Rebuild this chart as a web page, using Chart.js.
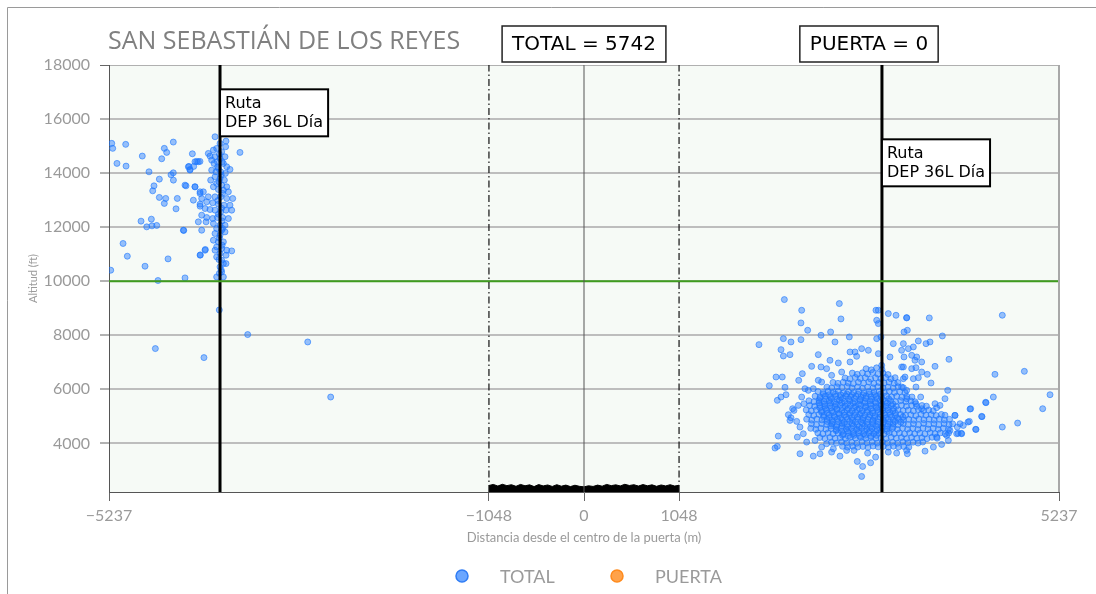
<!DOCTYPE html>
<html>
<head>
<meta charset="utf-8">
<script src="https://cdn.jsdelivr.net/npm/chart.js@4.4.1/dist/chart.umd.min.js"></script>
<style>
  html, body { margin: 0; padding: 0; background: #ffffff; }
  canvas { display: block; }
</style>
</head>
<body>
<canvas id="c" width="1096" height="594"></canvas>
<script>
// ---- chart text and counts ----
const chartTitle = 'SAN SEBASTIÁN DE LOS REYES';
const totalCount = 5742;
const gateCount = 0;
const seriesNames = ['TOTAL', 'PUERTA'];
const routeLabel = ['Ruta', 'DEP 36L Día'];

// ---- axes ----
const xRange = [-5237, 5237];
const yRange = [2200, 18000];
const xTickValues = [-5237, -1048, 0, 1048, 5237];
const yTickValues = [4000, 6000, 8000, 10000, 12000, 14000, 16000, 18000];

// ---- reference lines (m / ft) ----
const routeLineX = [-4013, 3285];
const routeLabelY = [17100, 15250];
const gateEdgesX = [-1048, 1048];
const gateCenterX = 0;
const altitudeLimit = 10000;

// ---- ground profile across the gate ----
const groundX = [-1048,-1000,-950,-900,-850,-800,-750,-700,-650,-600,-550,-500,-450,-400,-350,-300,-250,-200,-150,-100,-50,0,50,100,150,200,250,300,350,400,450,500,550,600,650,700,750,800,850,900,950,1000,1048];
const groundY = [2440,2480,2420,2485,2435,2470,2410,2480,2430,2465,2400,2475,2425,2460,2405,2470,2415,2455,2400,2450,2410,2390,2430,2405,2455,2415,2480,2435,2465,2425,2485,2440,2470,2420,2475,2430,2465,2410,2460,2425,2470,2420,2450];

// ---- TOTAL tracks: west of the gate (distance m, altitude ft) ----
const westPoints = [
[-5207,15100],[-5196,14915],[-5053,15063],[-5149,14359],[-5049,14259],[-4870,14630],[-4627,14915],[-4601,14766],[-4528,15148],[-4656,14530],
[-4796,14048],[-4682,13777],[-4741,13529],[-4755,13344],[-4553,13937],[-4528,14011],[-4682,13100],[-4612,13063],[-4627,12878],[-4484,13063],
[-4498,12678],[-4388,13529],[-4318,14715],[-4270,14433],[-4234,14433],[-4355,14248],[-4303,14248],[-4344,14111],[-4289,13492],[-4884,12222],
[-4770,12296],[-4821,12011],[-4763,12048],[-4711,12063],[-4413,11878],[-5082,11396],[-5035,10925],[-4840,10555],[-4586,10826],[-5218,10407],
[-4697,10025],[-4399,10122],[-4230,10974],[-4175,11174],[-4021,8936],[-3708,8025],[-3046,7751],[-4726,7507],[-4190,7173],[-2793,5714],[-3793,14766],
[-4068,15345],[-4013,15098],[-3947,15184],[-4050,14913],[-4086,14851],[-3995,14789],[-3951,14975],[-4123,14629],[-4068,14604],[-4013,14542],
[-3958,14604],[-4042,14419],[-4079,14357],[-3976,14357],[-3939,14234],[-4031,14172],[-4105,14110],[-4057,14048],[-4006,14048],[-3954,13987],
[-3903,14135],[-4068,13863],[-4013,13801],[-3965,13740],[-4116,13740],[-4050,13616],[-3995,13554],[-3939,13493],[-4086,13493],[-4031,13394],
[-3976,13369],[-3921,13307],[-4197,13307],[-4233,13246],[-4142,13122],[-4068,13122],[-4006,13122],[-3939,13060],[-3873,13060],[-4160,12937],
[-4094,12900],[-4031,12850],[-3969,12813],[-3903,12813],[-4233,12776],[-4178,12690],[-4123,12653],[-4068,12628],[-4006,12566],[-3947,12628],
[-3884,12628],[-4215,12443],[-4160,12356],[-4094,12319],[-4042,12356],[-3984,12356],[-3921,12319],[-4252,12196],[-4167,12196],[-4086,12134],
[-4013,12072],[-3958,12072],[-4050,11949],[-3995,11887],[-4068,11764],[-4013,11702],[-3958,11825],[-4086,11517],[-4031,11455],[-3976,11455],
[-4050,11270],[-3995,11208],[-3939,11146],[-3884,11121],[-4068,11146],[-4013,11023],[-3947,10961],[-4050,10899],[-3995,10776],[-3976,10652],
[-4013,10529],[-3947,10652],[-3995,10343],[-4050,10158],[-3976,10158],[-4215,13060],[-4307,12998],[-4233,12850],[-4417,11887],[-4215,11887],
[-4362,14234],[-4344,14135],[-4289,14419],[-4252,14419],[-4233,10961],[-4178,11146],[-4142,14728],[-4105,14481],[-4527,13740],[-4399,13554],
[-4289,13493],[-4233,13307],[-4020,14700],[-3990,14420],[-4040,14230],[-4000,13930],[-4025,13680],[-3985,13250],[-4035,12990],[-3995,12700],
[-4030,12480],[-3990,12230],[-4020,11600],[-3990,11330],[-4025,10800],[-4000,10420],[-4020,10290],[-3985,11950]
];

// ---- TOTAL tracks: east of the gate, scattered part ----
const eastPoints = [
[2209,9320],[2400,8925],[2815,9172],[2392,8456],[2833,8604],[2466,8184],[2198,7875],[2282,7752],[2392,7838],[2719,8122],
[2613,7999],[2767,7752],[2925,7937],[1929,7653],[2172,7468],[2198,7233],[2271,7283],[2583,7283],[2510,6850],[2613,6826],
[2117,6455],[2186,6455],[2367,6332],[2407,6579],[2043,6134],[2216,6072],[2131,5591],[2172,5714],[2227,5800],[2300,5282],
[2253,5060],[2282,4948],[2345,4813],[2142,4269],[2106,3825],[2131,3886],[2381,3615],[2528,3528],[2822,3528],[2977,3738],
[3013,3330],[3072,3145],[3061,2775],[3160,3281],[3127,3639],[3215,3491],[3219,8925],[3245,8431],[3355,8802],[3440,8740],
[3557,8653],[3227,7875],[2933,7381],[2988,7381],[3061,7505],[3135,7443],[3006,7221],[2712,7073],[2804,6974],[2675,6764],
[2730,6517],[2841,6640],[2933,7011],[2583,6332],[2620,6270],[2473,5961],[2436,6023],[2528,6023],[2400,5714],[2425,5467],
[2363,5405],[2315,5220],[2271,4850],[2381,4603],[2418,4356],[2352,4232],[2455,4047],[2547,4109],[2620,3862],[2675,3985],
[2749,3800],[2602,3615],[2730,3676],[2896,3738],[3355,3676],[3447,3639],[3557,3738],[3502,6826],[3521,6393],[3374,7196],
[3410,7690],[3528,8122],[3245,8925],[3227,8555],[3274,7937],[3245,7320],[3282,6887],
[3558,8641],[3807,8641],[4612,8740],[3565,8184],[3951,7974],[3686,7789],[3771,7690],[3815,7752],[3521,7690],[3502,7443],
[3576,7505],[3631,7567],[3528,7196],[3613,7258],[3649,7073],[3668,7196],[3723,7011],[4024,7110],[3870,6850],[3613,6764],
[3660,6801],[3521,6826],[3539,6455],[3631,6393],[3686,6430],[3723,6640],[3785,6554],[3826,6233],[4531,6554],[4855,6665],
[3502,6085],[3558,5961],[3660,6085],[4010,5961],[3712,5714],[3558,5652],[3980,5652],[4513,5714],[4432,5504],[5138,5800],
[3870,5467],[3925,5405],[3888,5319],[3660,5467],[3723,5282],[4263,5282],[5057,5282],[4384,4998],[4090,5035],[4248,4813],
[4146,4726],[4182,4664],[4116,4603],[4322,4516],[4612,4603],[4781,4751],[4164,4356],[4109,4356],[4035,4479],[3999,4294],
[3943,3960],[3852,3862],[3760,3713],[3565,3615],[4017,4109],[3888,4232],[4428,5517],[4388,4988],[4318,4518],[4256,5270],
[4090,5036],[4124,4370],[4160,4370],[4234,4788]
];

// ---- TOTAL tracks: east of the gate, dense body ----
const eastDense = [
[3110,6760],[3168,6720],[3226,6795],[3285,6735],
[2958,6600],[3012,6555],[3070,6610],[3126,6570],[3183,6620],[3240,6560],[3297,6600],[3352,6545],
[2878,6420],[2931,6385],[2992,6440],[3046,6400],[3101,6430],[3161,6380],[3214,6425],[3273,6395],[3326,6440],[3384,6390],[3430,6430],
[2745,6255],[2800,6220],[2858,6265],[2913,6230],[2970,6210],[3026,6260],[3082,6225],[3140,6270],[3196,6215],[3252,6250],[3308,6230],[3364,6265],[3420,6220],[3460,6250],
[2678,6080],[2731,6045],[2792,6090],[2845,6060],[2903,6100],[2955,6050],[3016,6085],[3070,6040],[3127,6080],[3186,6055],[3238,6095],[3297,6050],[3352,6080],[3409,6045],[3463,6090],[3520,6060],
[2580,5915],[2636,5880],[2692,5925],[2748,5890],[2805,5930],[2861,5875],[2917,5910],[2973,5885],[3030,5925],[3086,5870],[3142,5915],[3198,5890],[3255,5930],[3311,5880],[3367,5920],[3423,5885],[3480,5910],[3540,5880],
[2548,5745],[2603,5710],[2661,5750],[2715,5715],[2774,5740],[2828,5700],[2885,5755],[2940,5720],[2999,5745],[3053,5705],[3110,5750],[3166,5715],[3222,5740],[3279,5710],[3334,5755],[3392,5720],[3447,5745],[3504,5705],[3559,5740],[3616,5715],
[2480,5575],[2536,5540],[2592,5580],[2648,5545],[2705,5570],[2761,5530],[2817,5585],[2873,5550],[2930,5575],[2986,5540],[3042,5580],[3098,5545],[3155,5570],[3211,5535],[3267,5580],[3323,5550],[3380,5575],[3436,5540],[3492,5580],[3548,5545],[3604,5570],[3650,5540],
[2488,5400],[2543,5370],[2601,5410],[2655,5375],[2713,5405],[2768,5365],[2826,5415],[2880,5380],[2938,5400],[2993,5370],[3051,5410],[3105,5375],[3163,5405],[3218,5365],[3276,5410],[3330,5380],[3388,5400],[3443,5370],[3501,5410],[3555,5375],[3613,5405],[3668,5370],[3726,5400],[3775,5375],
[2450,5235],[2506,5200],[2562,5240],[2618,5205],[2675,5230],[2731,5195],[2787,5245],[2843,5210],[2900,5235],[2956,5200],[3012,5240],[3068,5205],[3125,5230],[3181,5195],[3237,5245],[3293,5210],[3350,5235],[3406,5200],[3462,5240],[3518,5205],[3575,5230],[3631,5195],[3687,5245],[3743,5210],[3800,5235],[3850,5205],
[2478,5065],[2533,5030],[2591,5070],[2645,5035],[2703,5060],[2758,5025],[2816,5075],[2870,5040],[2928,5065],[2983,5030],[3041,5070],[3095,5035],[3153,5060],[3208,5025],[3266,5075],[3320,5040],[3378,5065],[3433,5030],[3491,5070],[3545,5035],[3603,5060],[3658,5025],[3716,5075],[3770,5040],[3828,5065],[3883,5030],[3940,5070],[3980,5040],
[2455,4895],[2511,4860],[2567,4900],[2623,4865],[2680,4890],[2736,4855],[2792,4905],[2848,4870],[2905,4895],[2961,4860],[3017,4900],[3073,4865],[3130,4890],[3186,4855],[3242,4905],[3298,4870],[3355,4895],[3411,4860],[3467,4900],[3523,4865],[3580,4890],[3636,4855],[3692,4905],[3748,4870],[3805,4895],[3861,4860],[3917,4900],[3973,4865],[4030,4890],
[2508,4725],[2563,4690],[2621,4730],[2675,4695],[2733,4720],[2788,4685],[2846,4735],[2900,4700],[2958,4725],[3013,4690],[3071,4730],[3125,4695],[3183,4720],[3238,4685],[3296,4735],[3350,4700],[3408,4725],[3463,4690],[3521,4730],[3575,4695],[3633,4720],[3688,4685],[3746,4735],[3800,4700],[3858,4725],[3913,4690],[3970,4730],[4025,4695],[4065,4720],
[2500,4555],[2556,4520],[2612,4560],[2668,4525],[2725,4550],[2781,4515],[2837,4565],[2893,4530],[2950,4555],[3006,4520],[3062,4560],[3118,4525],[3175,4550],[3231,4515],[3287,4565],[3343,4530],[3400,4555],[3456,4520],[3512,4560],[3568,4525],[3625,4550],[3681,4515],[3737,4565],[3793,4530],[3850,4555],[3906,4520],[3962,4560],[4018,4525],
[2578,4385],[2633,4350],[2691,4390],[2745,4355],[2803,4380],[2858,4345],[2916,4395],[2970,4360],[3028,4385],[3083,4350],[3141,4390],[3195,4355],[3253,4380],[3308,4345],[3366,4395],[3420,4360],[3478,4385],[3533,4350],[3591,4390],[3645,4355],[3703,4380],[3758,4345],[3816,4395],[3870,4360],[3928,4385],[3983,4350],[4020,4380],
[2600,4215],[2656,4180],[2712,4220],[2768,4185],[2825,4210],[2881,4175],[2937,4225],[2993,4190],[3050,4215],[3106,4180],[3162,4220],[3218,4185],[3275,4210],[3331,4175],[3387,4225],[3443,4190],[3500,4215],[3556,4180],[3612,4220],[3668,4185],[3725,4210],[3781,4175],[3837,4225],[3893,4190],
[2728,4045],[2783,4010],[2841,4050],[2895,4015],[2953,4040],[3008,4005],[3066,4055],[3120,4020],[3178,4045],[3233,4010],[3291,4050],[3345,4015],[3403,4040],[3458,4005],[3516,4055],[3570,4020],[3628,4045],[3683,4010],[3735,4050],
[2850,3890],[2906,3860],[2962,3895],[3018,3865],[3075,3885],[3131,3855],[3187,3900],[3243,3870],[3300,3890],[3356,3860],[3412,3895],[3468,3865],[3525,3885],[3581,3860]
];

// ---- TOTAL tracks: east of the gate, densest core ----
const eastCore = [
[2640,5830],[2702,5800],[2771,5825],[2830,5795],[2897,5830],[2955,5805],[3021,5820],[3080,5790],[3148,5830],[3206,5800],[3270,5825],
[2600,5660],[2665,5630],[2728,5655],[2790,5625],[2852,5660],[2918,5635],[2980,5655],[3045,5625],[3108,5660],[3170,5630],[3232,5655],[3295,5625],[3360,5650],
[2590,5490],[2652,5460],[2718,5485],[2780,5455],[2842,5490],[2905,5465],[2968,5485],[3030,5455],[3094,5490],[3157,5460],[3220,5485],[3283,5455],[3345,5490],[3405,5460],
[2600,5320],[2662,5290],[2725,5315],[2788,5285],[2850,5320],[2912,5295],[2976,5315],[3038,5285],[3101,5320],[3164,5290],[3227,5315],[3290,5285],[3352,5320],[3415,5290],
[2620,5150],[2683,5120],[2745,5145],[2808,5115],[2870,5150],[2933,5125],[2995,5145],[3058,5115],[3121,5150],[3184,5120],[3246,5145],[3309,5115],[3371,5150],[3434,5120],
[2640,4980],[2702,4950],[2765,4975],[2828,4945],[2890,4980],[2953,4955],[3015,4975],[3078,4945],[3141,4980],[3204,4950],[3266,4975],[3329,4945],[3391,4980],[3454,4950],[3517,4975],
[2680,4810],[2742,4780],[2805,4805],[2868,4775],[2930,4810],[2993,4785],[3055,4805],[3118,4775],[3181,4810],[3244,4780],[3306,4805],[3369,4775],[3431,4810],[3494,4780],
[2720,4640],[2783,4610],[2845,4635],[2908,4605],[2970,4640],[3033,4615],[3095,4635],[3158,4605],[3221,4640],[3284,4610],[3346,4635],[3409,4605],
[2780,4470],[2843,4440],[2905,4465],[2968,4435],[3030,4470],[3093,4445],[3155,4465],[3218,4435],[3281,4470],[3344,4440],
[2850,4300],[2913,4270],[2975,4295],[3038,4265],[3100,4300],[3163,4275],[3225,4295]
];

// gate crossings (none recorded)
const gatePoints = [];

// ---- styling ----
const totalFill = 'rgba(30,120,255,0.45)';
const totalEdge = 'rgba(30,120,255,0.6)';
const gateFill = 'rgba(255,140,30,0.8)';
const gateEdge = 'rgba(255,120,0,0.9)';
const greyText = '#9a9a9a';
const uiFont = 'Lato, "Open Sans", sans-serif';
const boxFont = '"DejaVu Sans", sans-serif';

const toXY = p => ({ x: p[0], y: p[1] });
const vertical = x => [{ x: x, y: yRange[0] }, { x: x, y: yRange[1] }];

const lineSet = (data, color, width, dash, order) => ({
  type: 'scatter', data, showLine: true, pointRadius: 0, borderColor: color,
  backgroundColor: color, borderWidth: width, borderDash: dash || [], order, fill: false
});

const datasets = [
  {
    label: seriesNames[0], type: 'scatter',
    data: westPoints.concat(eastPoints, eastDense, eastCore).map(toXY),
    backgroundColor: totalFill, borderColor: totalEdge,
    pointRadius: 3, borderWidth: 1, order: 3
  },
  {
    label: seriesNames[1], type: 'scatter', data: gatePoints.map(toXY),
    backgroundColor: gateFill, borderColor: gateEdge, pointRadius: 3, borderWidth: 1, order: 2
  },
  {
    label: 'suelo', type: 'line',
    data: groundX.map((x, i) => ({ x, y: groundY[i] })),
    borderColor: '#000', backgroundColor: '#000', borderWidth: 1,
    pointRadius: 0, fill: 'start', tension: 0, order: 1
  },
  lineSet(vertical(gateCenterX), '#555', 1, [], 0),
  lineSet(vertical(gateEdgesX[0]), '#111', 1.2, [7, 3, 1.5, 3], 0),
  lineSet(vertical(gateEdgesX[1]), '#111', 1.2, [7, 3, 1.5, 3], 0),
  lineSet([{ x: xRange[0], y: altitudeLimit }, { x: xRange[1], y: altitudeLimit }], '#3f9c1f', 2, [], 0),
  lineSet(vertical(routeLineX[0]), '#000', 3, [], 0),
  lineSet(vertical(routeLineX[1]), '#000', 3, [], 0)
];

// ---- drawing helpers: backgrounds, frame, labels, legend ----
const decorations = {
  id: 'decorations',
  beforeDraw(chart) {
    const { ctx, chartArea: a } = chart;
    ctx.save();
    ctx.fillStyle = '#ffffff';
    ctx.fillRect(0, 0, chart.width, chart.height);
    ctx.strokeStyle = '#9a9a9a';
    ctx.lineWidth = 1;
    ctx.beginPath();
    ctx.moveTo(7.5, chart.height);
    ctx.lineTo(7.5, 7.5);
    ctx.lineTo(chart.width, 7.5);
    ctx.stroke();
    ctx.fillStyle = '#f6faf6';
    ctx.fillRect(a.left, a.top, a.right - a.left, a.bottom - a.top);
    ctx.restore();
  },
  afterDatasetsDraw(chart) {
    const { ctx, chartArea: a, scales: { x, y } } = chart;
    ctx.save();
    // right edge of the plot
    ctx.strokeStyle = '#a8a8a8';
    ctx.lineWidth = 2;
    ctx.beginPath();
    ctx.moveTo(a.right, a.top);
    ctx.lineTo(a.right, a.bottom);
    ctx.stroke();
    // route labels
    ctx.font = '16px ' + boxFont;
    const tw = Math.max(...routeLabel.map(t => ctx.measureText(t).width));
    routeLineX.forEach((lx, i) => {
      const left = x.getPixelForValue(lx);
      const top = y.getPixelForValue(routeLabelY[i]);
      const w = tw + 10, h = 47;
      ctx.fillStyle = '#ffffff';
      ctx.fillRect(left, top, w, h);
      ctx.strokeStyle = '#000';
      ctx.lineWidth = 2;
      ctx.strokeRect(left, top, w, h);
      ctx.fillStyle = '#000';
      ctx.textAlign = 'left';
      ctx.textBaseline = 'alphabetic';
      ctx.fillText(routeLabel[0], left + 5, top + 19);
      ctx.fillText(routeLabel[1], left + 5, top + 38);
    });
    ctx.restore();
  },
  afterDraw(chart) {
    const { ctx, chartArea: a } = chart;
    const cx = (a.left + a.right) / 2;
    ctx.save();
    // title
    ctx.fillStyle = '#808080';
    ctx.font = '25px "Open Sans", sans-serif';
    ctx.textAlign = 'left';
    ctx.textBaseline = 'alphabetic';
    ctx.fillText(chartTitle, a.left - 1, 49);
    // count boxes
    const countBox = (text, centerX) => {
      ctx.font = '20px ' + boxFont;
      const w = ctx.measureText(text).width + 20, h = 36;
      ctx.fillStyle = '#fff';
      ctx.fillRect(centerX - w / 2, 26, w, h);
      ctx.strokeStyle = '#222';
      ctx.lineWidth = 1.5;
      ctx.strokeRect(centerX - w / 2, 26, w, h);
      ctx.fillStyle = '#000';
      ctx.textAlign = 'center';
      ctx.textBaseline = 'middle';
      ctx.fillText(text, centerX, 45);
    };
    countBox(seriesNames[0] + ' = ' + totalCount, cx);
    countBox(seriesNames[1] + ' = ' + gateCount, a.left + 0.8 * (a.right - a.left));
    // legend
    const item = (px, fill, edge, label) => {
      ctx.beginPath();
      ctx.arc(px, 576, 6, 0, Math.PI * 2);
      ctx.fillStyle = fill;
      ctx.fill();
      ctx.lineWidth = 1.5;
      ctx.strokeStyle = edge;
      ctx.stroke();
      ctx.fillStyle = greyText;
      ctx.font = '18px ' + uiFont;
      ctx.textAlign = 'left';
      ctx.textBaseline = 'alphabetic';
      ctx.fillText(label, px + 38, 583);
    };
    item(cx - 122, '#6aa6ff', '#2f7cf5', seriesNames[0]);
    item(cx + 33, '#ffa24a', '#ff8a1c', seriesNames[1]);
    ctx.restore();
  }
};

const minusFmt = v => (v < 0 ? '\u2212' + Math.abs(v) : String(v));

new Chart(document.getElementById('c'), {
  type: 'scatter',
  data: { datasets },
  options: {
    responsive: false,
    devicePixelRatio: 1,
    animation: false,
    events: [],
    layout: { padding: { top: 65, right: 37, left: 0, bottom: 0 } },
    plugins: { legend: { display: false }, title: { display: false }, tooltip: { enabled: false } },
    scales: {
      x: {
        type: 'linear', min: xRange[0], max: xRange[1],
        afterBuildTicks: s => { s.ticks = xTickValues.map(v => ({ value: v })); },
        afterFit: s => { s.height = 102; },
        ticks: { color: greyText, font: { family: uiFont, size: 16 }, padding: 5, maxRotation: 0, autoSkip: false, callback: minusFmt },
        grid: { drawOnChartArea: false, drawTicks: true, tickLength: 9, tickColor: '#666', tickWidth: 1 },
        border: { display: true, color: '#555', width: 1 },
        title: { display: true, text: 'Distancia desde el centro de la puerta (m)', color: greyText,
                 font: { family: uiFont, size: 13 }, padding: { top: 0, bottom: 48 } }
      },
      y: {
        type: 'linear', min: yRange[0], max: yRange[1],
        afterBuildTicks: s => { s.ticks = yTickValues.map(v => ({ value: v })); },
        afterFit: s => { s.width = 109; },
        ticks: { color: greyText, font: { family: uiFont, size: 16 }, padding: 10, autoSkip: false, callback: minusFmt },
        grid: {
          color: c => (c.tick && c.tick.value === yRange[1] ? '#b0b0b0' : '#bdbdbd'),
          lineWidth: c => (c.tick && c.tick.value === yRange[1] ? 1 : 2),
          drawTicks: true, tickLength: 9, tickColor: '#666', tickWidth: 1
        },
        border: { display: true, color: '#555', width: 1 },
        title: { display: true, text: 'Altitud (ft)', color: greyText,
                 font: { family: uiFont, size: 11 }, padding: { top: 27, bottom: 0 } }
      }
    }
  },
  plugins: [decorations]
});
</script>
</body>
</html>
